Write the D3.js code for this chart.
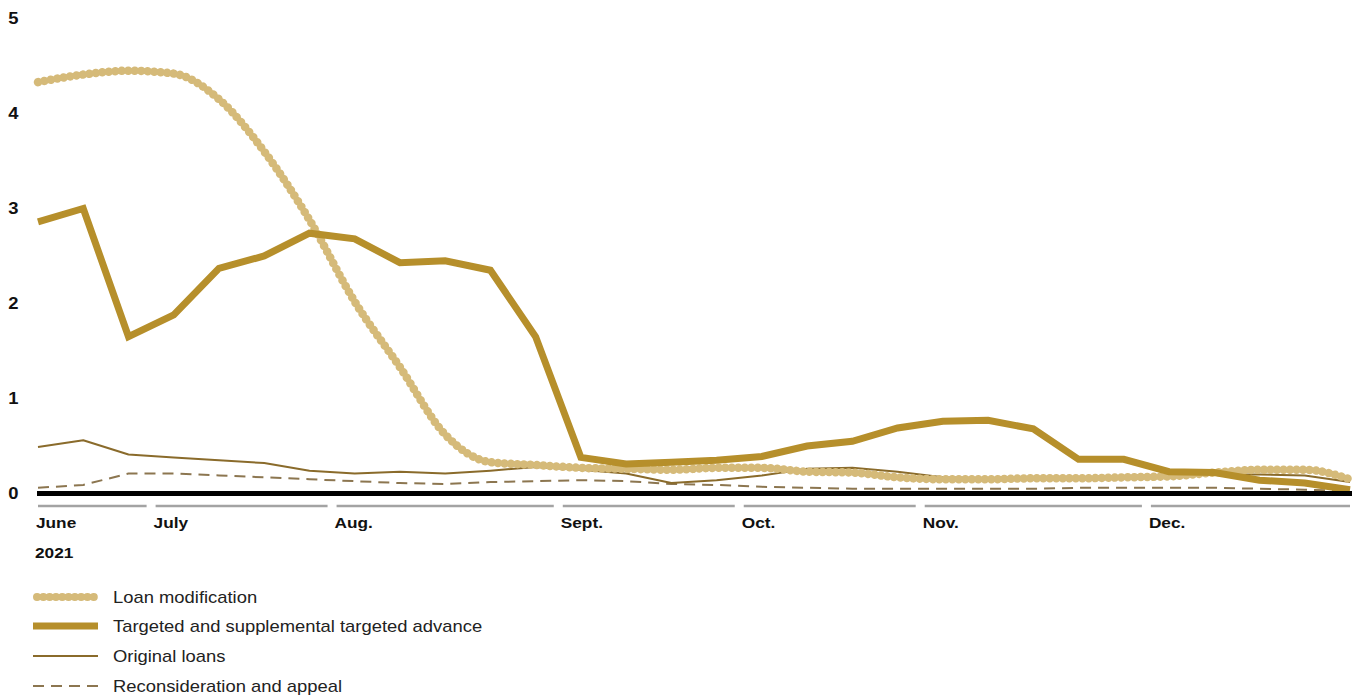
<!DOCTYPE html>
<html>
<head>
<meta charset="utf-8">
<script src="https://cdn.jsdelivr.net/npm/d3@7"></script>
<style>
  html, body { margin: 0; padding: 0; background: #fff; }
  svg { display: block; font-family: "Liberation Sans", Arial, sans-serif; }
</style>
</head>
<body>
<svg id="chart" width="1356" height="698"></svg>
<script>
// ---- data (weekly observations, June–December 2021) ----
const weeks = d3.range(30);
const loanModification = [4.33, 4.41, 4.45, 4.42, 4.15, 3.6, 2.88, 2.02, 1.33, 0.62, 0.33, 0.3, 0.27, 0.26, 0.25, 0.27, 0.27, 0.23, 0.22, 0.17, 0.15, 0.15, 0.16, 0.16, 0.17, 0.18, 0.22, 0.25, 0.25, 0.15];
const targetedAdvance = [2.86, 3.0, 1.65, 1.88, 2.37, 2.5, 2.74, 2.68, 2.43, 2.45, 2.35, 1.65, 0.38, 0.31, 0.33, 0.35, 0.39, 0.5, 0.55, 0.69, 0.76, 0.77, 0.68, 0.36, 0.36, 0.23, 0.22, 0.14, 0.11, 0.04];
const originalLoans = [0.49, 0.56, 0.41, 0.38, 0.35, 0.32, 0.24, 0.21, 0.23, 0.21, 0.24, 0.28, 0.25, 0.21, 0.11, 0.14, 0.19, 0.26, 0.27, 0.23, 0.17, 0.16, 0.16, 0.16, 0.17, 0.18, 0.2, 0.2, 0.19, 0.12];
const reconsideration = [0.06, 0.09, 0.21, 0.21, 0.19, 0.17, 0.15, 0.13, 0.11, 0.1, 0.12, 0.13, 0.14, 0.13, 0.1, 0.09, 0.07, 0.06, 0.05, 0.05, 0.05, 0.05, 0.05, 0.06, 0.06, 0.06, 0.06, 0.05, 0.04, 0.03];
const monthLabels = ["June", "July", "Aug.", "Sept.", "Oct.", "Nov.", "Dec."];
const monthFirstWeek = [0, 3, 7, 12, 16, 20, 25];
const monthLastWeek = [2, 6, 11, 15, 19, 24, 29];
const yearLabel = "2021";
const yTicks = [0, 1, 2, 3, 4, 5];
const seriesNames = ["Loan modification", "Targeted and supplemental targeted advance", "Original loans", "Reconsideration and appeal"];

// ---- layout ----
const svg = d3.select("#chart");
const x = d3.scaleLinear().domain([0, 29]).range([38, 1350]);
const y = d3.scaleLinear().domain([0, 5]).range([493.5, 18.5]);
const SX = 1.15; // horizontal text stretch seen in the reference

const colLoanMod = "#d5ba79";
const colTargeted = "#b68f2b";
const colOriginal = "#8a6b2b";
const colRecon = "#8c7650";

function addText(parent, tx, ty, str, opts) {
  const g = parent.append("g").attr("transform", `translate(${tx},${ty}) scale(${SX},1)`);
  const t = g.append("text").attr("x", 0).attr("y", 0)
    .attr("font-size", opts.size)
    .attr("font-weight", opts.weight || "normal")
    .attr("fill", opts.fill || "#111")
    .attr("text-anchor", opts.anchor || "start")
    .text(str);
  if (opts.baseline) t.attr("dominant-baseline", opts.baseline);
  return t;
}

// y tick labels
const yg = svg.append("g");
yTicks.forEach(d => addText(yg, 18.5, y(d), d, { size: 16, weight: "bold", anchor: "end", baseline: "central" }));

// month bracket segments
const gap = 4.5;
const segStart = i => i === 0 ? x(monthFirstWeek[i]) : x(monthFirstWeek[i] - 0.5) + gap;
const segEnd = i => i === monthLabels.length - 1 ? x(monthLastWeek[i]) : x(monthLastWeek[i] + 0.5) - gap;
svg.append("g").selectAll("line").data(monthLabels).join("line")
  .attr("x1", (d, i) => segStart(i))
  .attr("x2", (d, i) => segEnd(i))
  .attr("y1", 506).attr("y2", 506)
  .attr("stroke", "#a3a3a3").attr("stroke-width", 2.5);

const mg = svg.append("g");
monthLabels.forEach((m, i) => addText(mg, segStart(i) - 2, 528, m, { size: 15, weight: "bold" }));
addText(mg, 35, 558, yearLabel, { size: 15, weight: "bold" });

// lines
const lineGen = d3.line().x((d, i) => x(weeks[i])).y(d => y(d));
const smoothGen = d3.line().x((d, i) => x(weeks[i])).y(d => y(d)).curve(d3.curveMonotoneX);

svg.append("path").datum(reconsideration)
  .attr("d", lineGen).attr("fill", "none")
  .attr("stroke", colRecon).attr("stroke-width", 2).attr("stroke-dasharray", "11 7");

svg.append("path").datum(originalLoans)
  .attr("d", lineGen).attr("fill", "none")
  .attr("stroke", colOriginal).attr("stroke-width", 2).attr("stroke-linejoin", "round");

svg.append("path").datum(loanModification)
  .attr("d", smoothGen).attr("fill", "none")
  .attr("stroke", colLoanMod).attr("stroke-width", 8.5)
  .attr("stroke-linecap", "round").attr("stroke-dasharray", "0.1 6.4");

svg.append("path").datum(targetedAdvance)
  .attr("d", lineGen).attr("fill", "none")
  .attr("stroke", colTargeted).attr("stroke-width", 7).attr("stroke-linejoin", "miter");

// zero baseline
svg.append("line")
  .attr("x1", x(0) - 1).attr("x2", x(29) + 2)
  .attr("y1", y(0)).attr("y2", y(0))
  .attr("stroke", "#000").attr("stroke-width", 5);

// legend
const legendY = [597, 626, 656, 686];
const leg = svg.append("g");
const styles = [
  { stroke: colLoanMod, w: 8, dash: "0.1 6.2", cap: "round" },
  { stroke: colTargeted, w: 7, dash: null, cap: "butt" },
  { stroke: colOriginal, w: 2, dash: null, cap: "butt" },
  { stroke: colRecon, w: 2, dash: "11 7", cap: "butt" }
];
seriesNames.forEach((name, i) => {
  const st = styles[i];
  leg.append("line")
    .attr("x1", i === 0 ? 37 : 33).attr("x2", i === 0 ? 96 : 98)
    .attr("y1", legendY[i]).attr("y2", legendY[i])
    .attr("stroke", st.stroke).attr("stroke-width", st.w)
    .attr("stroke-linecap", st.cap)
    .attr("stroke-dasharray", st.dash);
  addText(leg, 113, legendY[i], name, { size: 16, fill: "#222", baseline: "central" });
});
</script>
</body>
</html>
